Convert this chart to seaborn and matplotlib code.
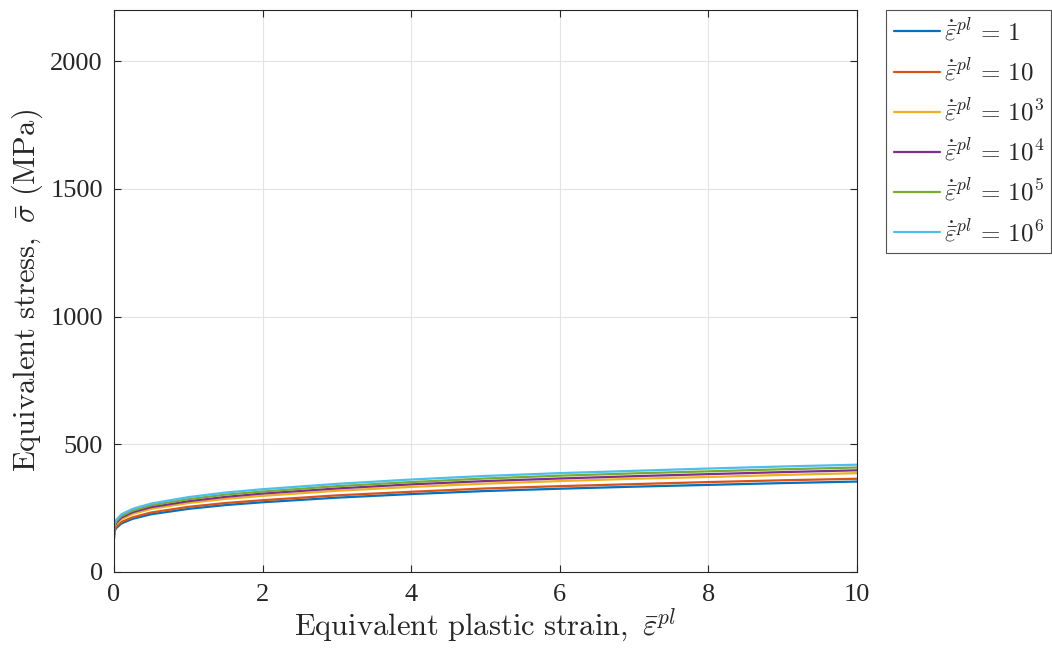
import numpy as np
import pandas as pd
import matplotlib
matplotlib.use("Agg")
import matplotlib.pyplot as plt
import seaborn as sns

# equivalent plastic strain (x) and stress curves (MPa)
strain = [0, 0.002, 0.01, 0.03, 0.1, 0.25, 0.5, 1, 1.5, 2, 3, 4, 5, 6, 7, 8, 9, 10]
stress_1 = [130, 149, 161, 172, 190, 208, 226, 247, 262, 273, 291, 305, 317, 326, 334, 341, 348, 354]
stress_10 = [134, 154, 166, 177, 196, 214, 233, 255, 270, 281, 300, 314, 327, 336, 344, 352, 359, 365]
stress_1e3 = [142, 163, 176, 188, 207, 227, 247, 270, 286, 298, 318, 333, 346, 356, 365, 372, 380, 387]
stress_1e4 = [146, 167, 181, 193, 213, 234, 254, 277, 294, 307, 327, 343, 356, 366, 375, 383, 391, 398]
stress_1e5 = [150, 172, 186, 199, 219, 240, 261, 285, 303, 315, 336, 352, 366, 377, 386, 394, 402, 409]
stress_1e6 = [154, 177, 191, 204, 226, 247, 268, 293, 311, 324, 345, 362, 376, 387, 396, 405, 413, 420]

labels = [
    r"$\dot{\bar{\varepsilon}}^{pl} \,=\, 1$",
    r"$\dot{\bar{\varepsilon}}^{pl} \,=\, 10$",
    r"$\dot{\bar{\varepsilon}}^{pl} \,=\, 10^3$",
    r"$\dot{\bar{\varepsilon}}^{pl} \,=\, 10^4$",
    r"$\dot{\bar{\varepsilon}}^{pl} \,=\, 10^5$",
    r"$\dot{\bar{\varepsilon}}^{pl} \,=\, 10^6$",
]
colors = ["#0072BD", "#D95319", "#EDB120", "#7E2F8E", "#77AC30", "#4DBEEE"]

all_stress = [stress_1, stress_10, stress_1e3, stress_1e4, stress_1e5, stress_1e6]
rows = []
for lab, ys in zip(labels, all_stress):
    for x, y in zip(strain, ys):
        rows.append({"strain": x, "stress": y, "rate": lab})
df = pd.DataFrame(rows)

sns.set_style("white")
plt.rcParams["font.family"] = ["Liberation Serif", "DejaVu Serif"]
plt.rcParams["mathtext.fontset"] = "cm"

fig = plt.figure(figsize=(10.52, 6.48), dpi=100)
ax = fig.add_axes([0.1084, 0.1173, 0.7063, 0.8673])

sns.lineplot(data=df, x="strain", y="stress", hue="rate", hue_order=labels,
             palette=colors, estimator=None, sort=True, linewidth=1.6, ax=ax)

ax.set_xlim(0, 10)
ax.set_ylim(0, 2200)
ax.set_xticks([0, 2, 4, 6, 8, 10])
ax.set_yticks([0, 500, 1000, 1500, 2000])
ax.grid(True, color="#e3e3e3", linewidth=0.8)
ax.set_axisbelow(True)
for sp in ax.spines.values():
    sp.set_visible(True)
    sp.set_color("#262626")
    sp.set_linewidth(0.8)
ax.tick_params(direction="in", length=5, width=0.8, colors="#262626",
               labelsize=19, top=True, right=True, bottom=True, left=True)
ax.tick_params(axis="x", pad=9)
ax.tick_params(axis="y", pad=8)

# labels drawn in Computer Modern, like the LaTeX interpreter
ax.set_xlabel(r"$\mathrm{Equivalent\ plastic\ strain,}\ \bar{\varepsilon}^{pl}$",
              fontsize=22, color="#262626", labelpad=0)
ax.set_ylabel(r"$\mathrm{Equivalent\ stress,}\ \bar{\sigma}\ \mathrm{(MPa)}$",
              fontsize=22, color="#262626", labelpad=4)

leg = ax.legend(loc="upper left", bbox_to_anchor=(1.039, 1.0), fontsize=18,
                frameon=True, fancybox=False, edgecolor="#262626",
                handlelength=1.85, handletextpad=0.15, borderpad=0.3,
                labelspacing=0.5, borderaxespad=0)
leg.get_frame().set_linewidth(0.8)

fig.savefig("out.png", dpi=100)
